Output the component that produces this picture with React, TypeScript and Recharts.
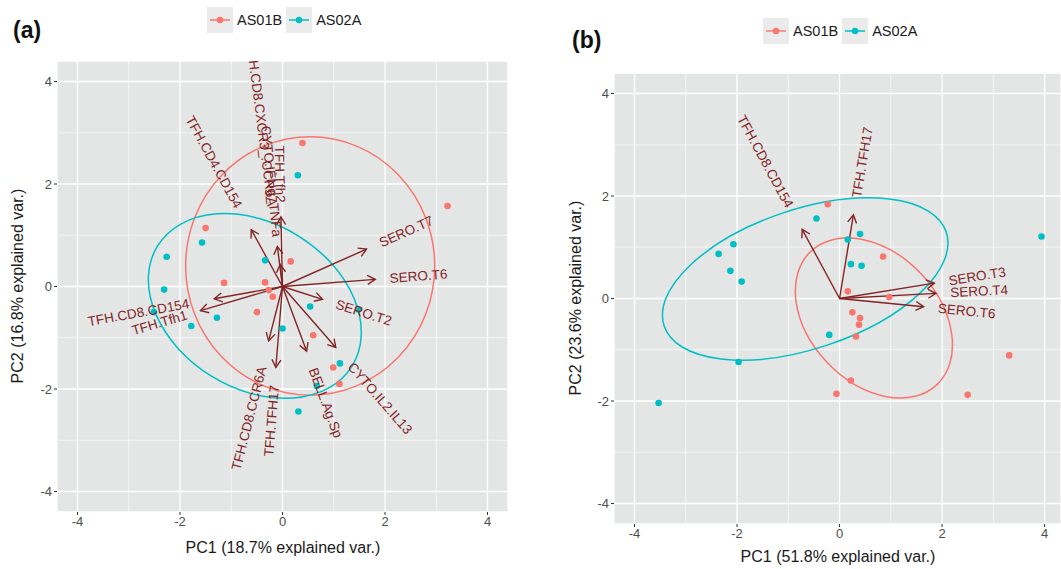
import React from 'react';
import { ScatterChart, Scatter, XAxis, YAxis, CartesianGrid, ReferenceLine, ReferenceArea } from 'recharts';

const FONT = '"Liberation Sans", Arial, Helvetica, sans-serif';
const RED = '#F8766D';
const TEAL = '#00BFC4';
const ARROW = '#832424';
const PANEL = '#E4E6E6';

const majorTicks = [-4, -2, 0, 2, 4];
const minorTicks = [-3, -1, 1, 3];

// ---- panel (a) ----
const groups = ['AS01B', 'AS02A'];
const as01bA = [
  { x: -1.5, y: 1.14 }, { x: -1.14, y: 0.07 }, { x: -0.34, y: 0.08 }, { x: -0.27, y: -0.07 },
  { x: -0.19, y: -0.2 }, { x: 0.16, y: 0.49 }, { x: 0.39, y: 2.8 }, { x: 3.22, y: 1.57 },
  { x: -0.5, y: -0.5 }, { x: 0.6, y: -0.95 }, { x: 0.99, y: -1.58 }, { x: 1.11, y: -1.9 },
];
const as02aA = [
  { x: -1.57, y: 0.86 }, { x: -2.26, y: 0.58 }, { x: -2.31, y: -0.06 }, { x: -0.34, y: 0.51 },
  { x: 0.3, y: 2.17 }, { x: -2.51, y: -0.5 }, { x: -1.28, y: -0.61 }, { x: -1.78, y: -0.77 },
  { x: 0.0, y: -0.82 }, { x: 0.54, y: -0.39 }, { x: 1.12, y: -1.5 }, { x: 0.31, y: -2.44 },
  { x: 1.48, y: -0.45 }, { x: 0.67, y: -1.94 },
];
const arrowsA = [
  { name: 'SERO.T7', x: 1.64, y: 0.73 },
  { name: 'SERO.T6', x: 1.81, y: 0.14 },
  { name: 'SERO.T2', x: 0.78, y: -0.25 },
  { name: 'CYTO.IL2.IL13', x: 1.04, y: -1.19 },
  { name: 'BELL.Ag.Sp', x: 0.47, y: -1.26 },
  { name: 'TFH.TFH17', x: -0.13, y: -1.58 },
  { name: 'TFH.CD8.CCR6A', x: -0.27, y: -1.06 },
  { name: 'TFH.CD8.CD154', x: -1.33, y: -0.24 },
  { name: 'TFH.Tfh1', x: -1.6, y: -0.47 },
  { name: 'TFH.CD4.CD154', x: -0.61, y: 1.11 },
  { name: 'TFH.Tfh2', x: -0.03, y: 1.36 },
  { name: 'TFH.CD8.CXCR3_.CCR6A', x: -0.1, y: 0.78 },
  { name: 'CYTO.IFNg_TNFa', x: -0.045, y: 0.43 },
];
// group ellipses: centre, semi-axes, tilt (degrees)
const ellipsesA = [
  { group: 'AS01B', cx: 0.54, cy: 0.4, a: 2.43, b: 2.52, angle: 0 },
  { group: 'AS02A', cx: -0.54, cy: -0.38, a: 2.23, b: 1.61, angle: -31.7 },
];

// ---- panel (b) ----
const as01bB = [
  { x: -0.23, y: 1.84 }, { x: 0.85, y: 0.82 }, { x: 0.16, y: 0.14 }, { x: 0.97, y: 0.03 },
  { x: 0.25, y: -0.27 }, { x: 0.4, y: -0.38 }, { x: 0.38, y: -0.51 }, { x: 0.32, y: -0.74 },
  { x: 0.22, y: -1.6 }, { x: -0.06, y: -1.86 }, { x: 2.5, y: -1.88 }, { x: 3.31, y: -1.11 },
];
const as02aB = [
  { x: -2.36, y: 0.87 }, { x: -2.07, y: 1.06 }, { x: -2.13, y: 0.54 }, { x: -1.91, y: 0.33 },
  { x: -0.45, y: 1.56 }, { x: 0.4, y: 1.26 }, { x: 0.16, y: 1.15 }, { x: 0.22, y: 0.67 },
  { x: 0.43, y: 0.64 }, { x: -0.2, y: -0.71 }, { x: 3.94, y: 1.21 }, { x: -1.97, y: -1.24 },
  { x: -3.53, y: -2.04 },
];
const arrowsB = [
  { name: 'TFH.CD8.CD154', x: -0.73, y: 1.35 },
  { name: 'TFH.TFH17', x: 0.27, y: 1.63 },
  { name: 'SERO.T3', x: 1.85, y: 0.3 },
  { name: 'SERO.T4', x: 1.88, y: 0.1 },
  { name: 'SERO.T6', x: 1.64, y: -0.16 },
];
const ellipsesB = [
  { group: 'AS01B', cx: 0.67, cy: -0.38, a: 1.79, b: 1.26, angle: -46.6 },
  { group: 'AS02A', cx: -0.67, cy: 0.38, a: 2.9, b: 1.36, angle: 18.4 },
];

const colorOf = (g: string) => (g === 'AS01B' ? RED : TEAL);

let ctx: CanvasRenderingContext2D | null = null;
const textWidth = (t: string, font: string) => {
  if (!ctx) ctx = document.createElement('canvas').getContext('2d');
  if (!ctx) return t.length * 7;
  ctx.font = font;
  return ctx.measureText(t).width;
};

const LABEL_SIZE = 13.5;

// arrow head + variable name, ggbiplot style (hjust = (1 - 1.5*sign(x))/2)
const ArrowTip = (props: any) => {
  const { cx, cy, payload } = props;
  if (cx == null || cy == null) return null;
  const { x, y, name } = payload;
  const ang = Math.atan2(y, x);
  const bx = -Math.cos(ang);
  const by = Math.sin(ang);
  const head = 9;
  const spread = Math.PI / 6;
  const rot = (a: number) => [bx * Math.cos(a) - by * Math.sin(a), bx * Math.sin(a) + by * Math.cos(a)];
  const [l1x, l1y] = rot(spread);
  const [l2x, l2y] = rot(-spread);
  const deg = (Math.atan(y / x) * 180) / Math.PI;
  const w = textWidth(name, `${LABEL_SIZE}px ${FONT}`);
  const pos = x >= 0;
  return (
    <g>
      <polyline
        points={`${cx + l1x * head},${cy + l1y * head} ${cx},${cy} ${cx + l2x * head},${cy + l2y * head}`}
        fill="none"
        stroke={ARROW}
        strokeWidth={1.4}
      />
      <text
        x={cx}
        y={cy}
        dx={pos ? 0.25 * w : -0.25 * w}
        dy="0.35em"
        textAnchor={pos ? 'start' : 'end'}
        transform={`rotate(${-deg} ${cx} ${cy})`}
        fill={ARROW}
        fontSize={LABEL_SIZE}
        fontFamily={FONT}
      >
        {name}
      </text>
    </g>
  );
};

const Dot = (color: string) => (p: any) => <circle cx={p.cx} cy={p.cy} r={3.3} fill={color} />;

const ellipseShape = (color: string, angle: number) => (p: any) => {
  const { x, y, width, height } = p;
  const cx = x + width / 2;
  const cy = y + height / 2;
  return (
    <ellipse
      cx={cx}
      cy={cy}
      rx={Math.abs(width) / 2}
      ry={Math.abs(height) / 2}
      transform={`rotate(${-angle} ${cx} ${cy})`}
      fill="none"
      stroke={color}
      strokeWidth={1.5}
    />
  );
};

interface BiplotProps {
  width: number;
  height: number;
  margin: { top: number; right: number; bottom: number; left: number };
  xDomain: [number, number];
  red: { x: number; y: number }[];
  teal: { x: number; y: number }[];
  arrows: { name: string; x: number; y: number }[];
  ellipses: { group: string; cx: number; cy: number; a: number; b: number; angle: number }[];
}

const Biplot: React.FC<BiplotProps> = ({ width, height, margin, xDomain, red, teal, arrows, ellipses }) => (
  <ScatterChart width={width} height={height} margin={margin}>
    <CartesianGrid fill={PANEL} stroke="#ffffff" strokeWidth={1.3} />
    <CartesianGrid
      fill="none"
      stroke="#ffffff"
      strokeWidth={0.6}
      horizontalValues={minorTicks}
      verticalValues={minorTicks}
    />
    <XAxis
      type="number"
      dataKey="x"
      domain={xDomain}
      allowDataOverflow
      ticks={majorTicks}
      axisLine={false}
      tickSize={3}
      tickLine={{ stroke: '#333333' }}
      tick={{ fill: '#4D4D4D', fontSize: 13, fontFamily: FONT }}
      height={30}
    />
    <YAxis
      type="number"
      dataKey="y"
      domain={[-4.4, 4.4]}
      allowDataOverflow
      ticks={majorTicks}
      axisLine={false}
      tickSize={3}
      tickLine={{ stroke: '#333333' }}
      tick={{ fill: '#4D4D4D', fontSize: 13, fontFamily: FONT }}
      width={40}
    />
    {arrows.map((a) => (
      <ReferenceLine
        key={a.name}
        segment={[{ x: 0, y: 0 }, { x: a.x, y: a.y }]}
        stroke={ARROW}
        strokeWidth={1.4}
        ifOverflow="hidden"
      />
    ))}
    <Scatter data={red} shape={Dot(RED)} isAnimationActive={false} />
    <Scatter data={teal} shape={Dot(TEAL)} isAnimationActive={false} />
    {ellipses.map((e) => (
      <ReferenceArea
        key={e.group}
        x1={e.cx - e.a}
        x2={e.cx + e.a}
        y1={e.cy - e.b}
        y2={e.cy + e.b}
        ifOverflow="visible"
        shape={ellipseShape(colorOf(e.group), e.angle)}
      />
    ))}
    <Scatter data={arrows} shape={ArrowTip} isAnimationActive={false} />
  </ScatterChart>
);

const LegendRow: React.FC<{ left: number; top: number }> = ({ left, top }) => (
  <div style={{ position: 'absolute', left, top, display: 'flex', alignItems: 'center', fontFamily: FONT, fontSize: 14.5, color: '#1A1A1A' }}>
    {groups.map((g) => (
      <div key={g} style={{ display: 'flex', alignItems: 'center', marginRight: 4 }}>
        <svg width={26} height={26} style={{ display: 'block' }}>
          <rect x={0} y={0} width={26} height={26} fill="#EBEBEB" />
          <line x1={3} y1={13} x2={23} y2={13} stroke={colorOf(g)} strokeWidth={1.5} />
          <circle cx={13} cy={13} r={3.2} fill={colorOf(g)} />
        </svg>
        <span style={{ marginLeft: 4 }}>{g}</span>
      </div>
    ))}
  </div>
);

const abs = (s: React.CSSProperties): React.CSSProperties => ({ position: 'absolute', fontFamily: FONT, ...s });

export default function App() {
  return (
    <div style={{ position: 'absolute', left: 0, top: 0, width: 1061, height: 569, background: '#ffffff', overflow: 'hidden' }}>
      <div style={abs({ left: 0, top: 0 })}>
        <Biplot
          width={530}
          height={569}
          margin={{ top: 61, right: 22, bottom: 27, left: 17 }}
          xDomain={[-4.4, 4.4]}
          red={as01bA}
          teal={as02aA}
          arrows={arrowsA}
          ellipses={ellipsesA}
        />
      </div>
      <div style={abs({ left: 530, top: 0 })}>
        <Biplot
          width={531}
          height={569}
          margin={{ top: 73, right: 0, bottom: 15, left: 44 }}
          xDomain={[-4.4, 4.32]}
          red={as01bB}
          teal={as02aB}
          arrows={arrowsB}
          ellipses={ellipsesB}
        />
      </div>

      <div style={abs({ left: 13, top: 17, fontSize: 23, fontWeight: 'bold', color: '#111' })}>(a)</div>
      <div style={abs({ left: 572, top: 27, fontSize: 23, fontWeight: 'bold', color: '#111' })}>(b)</div>

      <LegendRow left={207} top={7} />
      <LegendRow left={763} top={18} />

      <div style={abs({ left: 283, top: 548, transform: 'translate(-50%, -50%)', fontSize: 16, color: '#1A1A1A', whiteSpace: 'nowrap' })}>
        PC1 (18.7% explained var.)
      </div>
      <div style={abs({ left: 18, top: 286, transform: 'translate(-50%, -50%) rotate(-90deg)', fontSize: 16, color: '#1A1A1A', whiteSpace: 'nowrap' })}>
        PC2 (16.8% explained var.)
      </div>
      <div style={abs({ left: 838, top: 557, transform: 'translate(-50%, -50%)', fontSize: 16, color: '#1A1A1A', whiteSpace: 'nowrap' })}>
        PC1 (51.8% explained var.)
      </div>
      <div style={abs({ left: 576, top: 298, transform: 'translate(-50%, -50%) rotate(-90deg)', fontSize: 16, color: '#1A1A1A', whiteSpace: 'nowrap' })}>
        PC2 (23.6% explained var.)
      </div>
    </div>
  );
}
